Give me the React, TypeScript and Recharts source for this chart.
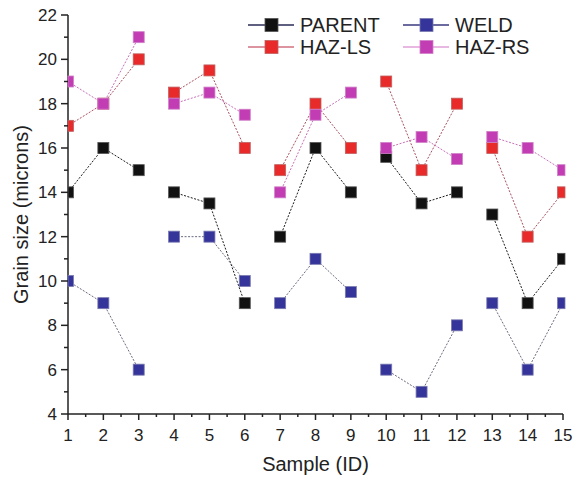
import React from 'react';
import { LineChart, Line, XAxis, YAxis } from 'recharts';

const samples = [1, 2, 3, 4, 5, 6, 7, 8, 9, 10, 11, 12, 13, 14, 15];
const parent = [14, 16, 15, 14, 13.5, 9, 12, 16, 14, 15.6, 13.5, 14, 13, 9, 11];
const weld = [10, 9, 6, 12, 12, 10, 9, 11, 9.5, 6, 5, 8, 9, 6, 9];
const hazLs = [17, 18, 20, 18.5, 19.5, 16, 15, 18, 16, 19, 15, 18, 16, 12, 14];
const hazRs = [19, 18, 21, 18, 18.5, 17.5, 14, 17.5, 18.5, 16, 16.5, 15.5, 16.5, 16, 15];
// samples were measured in sets of three; lines only join points inside a set
const groupSize = 3;

const yTicks = [4, 5, 6, 7, 8, 9, 10, 11, 12, 13, 14, 15, 16, 17, 18, 19, 20, 21, 22];
const xTicks = samples.flatMap((s) => (s < 15 ? [s, s + 0.5] : [s]));

const FONT = 'Arial, "Liberation Sans", sans-serif';
const INK = '#222';
// plot area edges, used to cut the markers that sit on the frame
const PLOT_LEFT = 68;
const PLOT_RIGHT = 563;

const series = [
  { key: 'parent', name: 'PARENT', fill: '#111111', edge: '#555', line: '#1a1a1a', legendLine: '#2a2a55' },
  { key: 'weld', name: 'WELD', fill: '#34349a', edge: '#7a7ab0', line: '#6a6a80', legendLine: '#3a3a80' },
  { key: 'hazLs', name: 'HAZ-LS', fill: '#e82a2a', edge: '#c06060', line: '#a85060', legendLine: '#d07080' },
  { key: 'hazRs', name: 'HAZ-RS', fill: '#c23cb4', edge: '#d080c8', line: '#c870b8', legendLine: '#e0a0d8' },
];

const rows: any[] = [];
samples.forEach((s, i) => {
  rows.push({ sample: s, parent: parent[i], weld: weld[i], hazLs: hazLs[i], hazRs: hazRs[i] });
  if ((i + 1) % groupSize === 0 && i < samples.length - 1) {
    rows.push({ sample: s + 0.5, parent: null, weld: null, hazLs: null, hazRs: null });
  }
});

const YTick = (props: any) => {
  const { x, y, payload } = props;
  const v = payload.value;
  const major = v % 2 === 0;
  return (
    <g>
      <line x1={x - (major ? 7 : 4)} x2={x} y1={y} y2={y} stroke={INK} strokeWidth={1.5} />
      {major && (
        <text x={x - 11} y={y} dy={6} textAnchor="end" fontSize={17} fontFamily={FONT} fill={INK}>
          {v}
        </text>
      )}
    </g>
  );
};

const XTick = (props: any) => {
  const { x, y, payload } = props;
  const v = payload.value;
  const major = Number.isInteger(v);
  return (
    <g>
      <line x1={x} x2={x} y1={y} y2={y + (major ? 6 : 3)} stroke={INK} strokeWidth={1.5} />
      {major && (
        <text x={x} y={y + 27} textAnchor="middle" fontSize={17} fontFamily={FONT} fill={INK}>
          {v}
        </text>
      )}
    </g>
  );
};

const squareDot = (fill: string, edge: string) => (p: any) => {
  if (p.cx == null || p.cy == null || p.value == null) return <g key={p.index} />;
  const x0 = Math.max(p.cx - 5.5, PLOT_LEFT);
  const x1 = Math.min(p.cx + 5.5, PLOT_RIGHT + 2);
  return (
    <rect key={p.index} x={x0} y={p.cy - 5.5} width={x1 - x0} height={11}
      fill={fill} stroke={edge} strokeWidth={0.8} />
  );
};

function LegendBox() {
  const pos = [
    { left: 248, top: 14 },
    { left: 403, top: 14 },
    { left: 248, top: 36 },
    { left: 403, top: 36 },
  ];
  return (
    <>
      {series.map((s, i) => (
        <div key={s.key} style={{ position: 'absolute', left: pos[i].left, top: pos[i].top, display: 'flex', alignItems: 'center', height: 22 }}>
          <svg width={46} height={22}>
            <line x1={0} x2={46} y1={11} y2={11} stroke={s.legendLine} strokeWidth={1.5} />
            <rect x={17} y={4.5} width={13} height={13} fill={s.fill} stroke={s.edge} strokeWidth={0.8} />
          </svg>
          <span style={{ fontFamily: FONT, fontSize: 20, color: INK, marginLeft: 6, lineHeight: '22px' }}>{s.name}</span>
        </div>
      ))}
    </>
  );
}

export default function App() {
  return (
    <div style={{ position: 'absolute', left: 0, top: 0, width: 573, height: 480, background: '#fff' }}>
      <LineChart width={573} height={480} data={rows} margin={{ top: 15, right: 10, left: 0, bottom: 0 }}>
        <XAxis
          dataKey="sample"
          type="number"
          domain={[1, 15]}
          ticks={xTicks}
          interval={0}
          height={66}
          tickSize={0}
          tickMargin={0}
          tick={<XTick />}
          axisLine={{ stroke: INK, strokeWidth: 1.5 }}
          label={{ value: 'Sample (ID)', position: 'insideBottom', offset: 9, fontSize: 20, fontFamily: FONT, fill: INK }}
        />
        <YAxis
          type="number"
          domain={[4, 22]}
          ticks={yTicks}
          interval={0}
          width={68}
          tickSize={0}
          tickMargin={0}
          tick={<YTick />}
          axisLine={{ stroke: INK, strokeWidth: 1.5 }}
          label={{ value: 'Grain size (microns)', angle: -90, position: 'insideLeft', dx: 16, fontSize: 20, fontFamily: FONT, fill: INK, style: { textAnchor: 'middle' } }}
        />
        {series.map((s) => (
          <Line
            key={s.key}
            dataKey={s.key}
            name={s.name}
            stroke={s.line}
            strokeWidth={1}
            strokeDasharray="2 1.5"
            dot={squareDot(s.fill, s.edge)}
            activeDot={false}
            isAnimationActive={false}
          />
        ))}
      </LineChart>
      <LegendBox />
    </div>
  );
}
